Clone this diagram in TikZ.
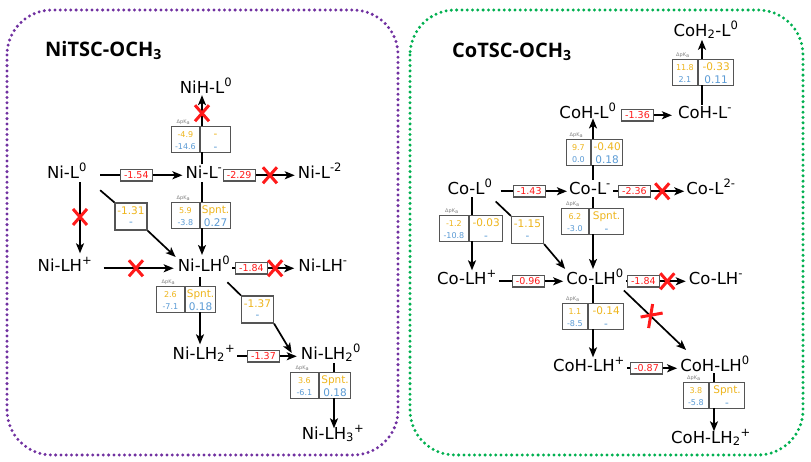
\documentclass[tikz,border=0pt]{standalone}
\usepackage{fontspec}
\setmainfont{DejaVu Sans}
\newfontfamily\titlefont{Open Sans}
\usetikzlibrary{arrows.meta}
\definecolor{yel}{HTML}{EEB51C}
\definecolor{blu}{HTML}{5B9BD5}
\definecolor{xred}{HTML}{FF1A1A}
\definecolor{bx}{HTML}{555555}
\definecolor{purp}{HTML}{7030A0}
\definecolor{grn}{HTML}{00B050}
\newcommand\fsz[1]{\fontsize{#1}{#1}\selectfont}
\def\pkL{28}\def\pkR{30}\def\pkH{26}
\tikzset{
 lbl/.style={font=\fsz{16.5}, inner sep=0pt, anchor=base},
 ln/.style={line width=1.7pt, draw=black},
 arr/.style={ln, -{Stealth[length=10pt,width=8pt,inset=2.5pt]}},
 cell/.style={draw=bx, line width=1.2pt, minimum height=26pt, inner sep=0pt},
 tl/.style={font=\fsz{8}, inner sep=0pt, anchor=base},
 tr/.style={font=\fsz{10.5}, inner sep=0pt, anchor=base},
 pklab/.style={font=\fsz{5}, text=gray, inner sep=0pt, anchor=south},
 vbox/.style={draw=bx, line width=1.2pt, fill=white, text=xred, font=\fsz{9.5}, minimum width=32pt, minimum height=11.5pt, inner sep=0pt},
 panelframe/.style={line width=3.3pt, dash pattern=on 0pt off 5.3pt, line cap=round, rounded corners=45pt},
 redx/.pic={\draw[xred, line width=3pt] (-7,-8) -- (7,8) (-7,8) -- (7,-8);},
 redxb/.pic={\draw[xred, line width=3pt] (2,-12) -- (-2,12) (-10,1) -- (12,-3);},
}
% pKa box: name, divider x, top y, line x, left top, left bottom, right top, right bottom
\newcommand\pkb[8]{%
 \node[cell, minimum width=\pkL pt, minimum height=\pkH pt, anchor=north east] (#1l) at (#2,#3) {};
 \node[cell, minimum width=\pkR pt, minimum height=\pkH pt, anchor=north west] (#1r) at (#2,#3) {};
 \node[pklab] (#1k) at ([xshift=-2pt,yshift=1.5pt]#1l.north) {ΔpK\textsubscript{a}};
 \node[tl, text=yel] (#1a) at ([yshift=-11.5pt]#1l.north) {#5};
 \node[tl, text=blu] (#1b) at ([yshift=-23pt]#1l.north) {#6};
 \node[tr, text=yel] (#1c) at ([yshift=-11.5pt]#1r.north) {#7};
 \node[tr, text=blu] (#1d) at ([yshift=-24pt]#1r.north) {#8};
 \coordinate (#1t) at (#4,#3);
 \coordinate (#1u) at (#4,#3+\pkH);
}
\newcommand\dgb[5]{%
 \node[cell, minimum width=32pt, minimum height=27pt] (#1) at (#2,#3) {};
 \node[tr, text=yel] (#1a) at ([yshift=-12pt]#1.north) {#4};
 \node[tr, text=blu] (#1b) at ([yshift=-23.5pt]#1.north) {#5};
}
\begin{document}
\begin{tikzpicture}[x=1pt,y=-1pt]
\useasboundingbox (0,0) rectangle (811,461);
\fill[white] (0,0) rectangle (811,461);
% frames
\draw[panelframe, purp] (7,10) rectangle (398,455);
\draw[panelframe, grn] (410,10) rectangle (803,455);
% titles
\node[font=\titlefont\bfseries\fsz{20}, anchor=base west, inner sep=0pt] (t1) at (45,56) {NiTSC-OCH\textsubscript{3}};
\node[font=\titlefont\bfseries\fsz{20}, anchor=base west, inner sep=0pt] (t2) at (452,57) {CoTSC-OCH\textsubscript{3}};

% ---------- Ni panel ----------
\node[lbl] (NiHL0) at (206,93) {NiH-L\textsuperscript{0}};
\node[lbl] (NiL0) at (67,178) {Ni-L\textsuperscript{0}};
\node[lbl] (NiLm) at (204,178) {Ni-L\textsuperscript{-}};
\node[lbl] (NiL2m) at (320,178) {Ni-L\textsuperscript{-2}};
\node[lbl] (NiLHp) at (65,271) {Ni-LH\textsuperscript{+}};
\node[lbl] (NiLH0) at (204,271) {Ni-LH\textsuperscript{0}};
\node[lbl] (NiLHm) at (323,271) {Ni-LH\textsuperscript{-}};
\node[lbl] (NiLH2p) at (204,359) {Ni-LH\textsubscript{2}\textsuperscript{+}};
\node[lbl] (NiLH20) at (331,359) {Ni-LH\textsubscript{2}\textsuperscript{0}};
\node[lbl] (NiLH3p) at (333,439) {Ni-LH\textsubscript{3}\textsuperscript{+}};

\def\pkL{28}\def\pkR{30}
\pkb{b1}{200}{126}{202}{-4.9}{-14.6}{-}{-}
\pkb{b2}{200}{202}{202}{5.9}{-3.8}{Spnt.}{0.27}
\pkb{b3}{185}{286}{200}{2.6}{-7.1}{Spnt.}{0.18}
\def\pkR{31}
\pkb{b4}{319}{372}{334}{3.6}{-6.1}{Spnt.}{0.18}
\dgb{d1}{131}{216.5}{-1.31}{-}
\dgb{d2}{257.5}{309.5}{-1.37}{-}

\draw[arr, shorten <=13pt, shorten >=3pt] (NiL0.mid east) -- node[vbox] (v1) {-1.54} (NiLm.mid west);
\draw[arr, shorten <=1pt, shorten >=3pt] (NiLm.mid east) -- node[vbox, pos=0.22] (v2) {-2.29} coordinate[pos=0.63] (x1) (NiL2m.mid west);
\pic at (x1) {redx};
\draw[arr, shorten <=11pt, shorten >=4pt] (NiLHp.mid east) -- coordinate[pos=0.51] (x3) (NiLH0.mid west);
\pic at (x3) {redx};
\draw[arr, shorten <=2pt, shorten >=4pt] (NiLH0.mid east) -- node[vbox, pos=0.31] (v3) {-1.84} coordinate[pos=0.66] (x5) (NiLHm.mid west);
\pic at (x5) {redx};
\draw[arr, shorten <=2pt, shorten >=4pt] (NiLH2p.mid east) -- node[vbox, pos=0.43] (v4) {-1.37} (NiLH20.mid west);

\draw[arr, shorten <=4pt, shorten >=4pt] ([xshift=13pt]NiL0.south) -- coordinate[pos=0.49] (x4) ([xshift=13pt]NiL0.south |- NiLHp.north);
\pic at (x4) {redx};
\draw[ln, shorten <=1pt] (NiLm.north -| b1u) -- (b1u);
\draw[arr, shorten >=2pt] (b1t) -- coordinate[pos=0.39] (x2) (b1t |- NiHL0.south);
\pic at (x2) {redx};
\draw[ln, shorten <=4pt] (NiLm.south -| b2t) -- (b2t);
\draw[arr, shorten >=1pt] (b2u) -- (b2u |- NiLH0.north);
\draw[ln, shorten <=6pt] (NiLH0.south -| b3t) -- (b3t);
\draw[arr, shorten >=1pt] (b3u) -- (b3u |- NiLH2p.north);
\draw[ln, shorten <=1pt] (NiLH20.south -| b4t) -- (b4t);
\draw[arr, shorten >=-3pt] (b4u) -- (b4u |- NiLH3p.north);

\draw[ln] ([shift={(13,12)}]NiL0.south east) -- (d1.north west);
\draw[arr] (d1.south east) -- ([shift={(-2,1)}]NiLH0.north west);
\draw[ln] ([shift={(-3,11)}]NiLH0.south east) -- (d2.north west);
\draw[arr] (d2.south east) -- ([shift={(-9,9)}]NiLH20.north west);

% ---------- Co panel ----------
\node[lbl] (CoH2L0) at (706,36) {CoH\textsubscript{2}-L\textsuperscript{0}};
\node[lbl] (CoHL0) at (588,118) {CoH-L\textsuperscript{0}};
\node[lbl] (CoHLm) at (705,118) {CoH-L\textsuperscript{-}};
\node[lbl] (CoL0) at (470,194) {Co-L\textsuperscript{0}};
\node[lbl] (CoLm) at (590,194) {Co-L\textsuperscript{-}};
\node[lbl] (CoL2m) at (711,194) {Co-L\textsuperscript{2-}};
\node[lbl] (CoLHp) at (467,284) {Co-LH\textsuperscript{+}};
\node[lbl] (CoLH0) at (595,284) {Co-LH\textsuperscript{0}};
\node[lbl] (CoLHm) at (716,284) {Co-LH\textsuperscript{-}};
\node[lbl] (CoHLHp) at (589,371) {CoH-LH\textsuperscript{+}};
\node[lbl] (CoHLH0) at (715,371) {CoH-LH\textsuperscript{0}};
\node[lbl] (CoHLH2p) at (711,443) {CoH-LH\textsubscript{2}\textsuperscript{+}};

\def\pkL{25}\def\pkR{35}
\pkb{c1}{698}{59}{702}{11.8}{2.1}{-0.33}{0.11}
\def\pkL{24}\def\pkR{31}
\pkb{c2}{591}{139}{593}{9.7}{0.0}{-0.40}{0.18}
\def\pkL{29}\def\pkR{33}
\pkb{c3}{469}{215}{472}{-1.2}{-10.8}{-0.03}{-}
\def\pkL{27}\def\pkR{34}
\pkb{c4}{589}{208}{593}{6.2}{-3.0}{Spnt.}{-}
\def\pkL{25}\def\pkR{35}
\pkb{c5}{588}{303}{593}{1.1}{-8.5}{-0.14}{-}
\pkb{c6}{709}{382}{714}{3.8}{-5.8}{Spnt.}{-}
\dgb{d3}{527.5}{230}{-1.15}{-}

\draw[arr, shorten <=8pt, shorten >=2pt] (CoL0.mid east) -- node[vbox, pos=0.48] (v5) {-1.43} (CoLm.mid west);
\draw[arr, shorten <=2pt, shorten >=2pt] (CoLm.mid east) -- node[vbox, pos=0.31] (v6) {-2.36} coordinate[pos=0.68] (x6) (CoL2m.mid west);
\pic at (x6) {redx};
\draw[arr, shorten <=5pt, shorten >=6pt] (CoHL0.mid east) -- node[vbox, pos=0.34] (v7) {-1.36} (CoHLm.mid west);
\draw[arr, shorten <=2pt, shorten >=3pt] (CoLHp.mid east) -- node[vbox, pos=0.45] (v8) {-0.96} (CoLH0.mid west);
\draw[arr, shorten <=2pt, shorten >=3pt] (CoLH0.mid east) -- node[vbox, pos=0.30] (v9) {-1.84} coordinate[pos=0.67] (x7) (CoLHm.mid west);
\pic at (x7) {redx};
\draw[arr, shorten <=2pt, shorten >=3pt] (CoHLHp.mid east) -- node[vbox, pos=0.39] (v10) {-0.87} (CoHLH0.mid west);

\draw[ln, shorten <=1pt] (CoHLm.north -| c1u) -- (c1u);
\draw[arr, shorten >=1pt] (c1t) -- (c1t |- CoH2L0.south);
\draw[ln, shorten <=2pt] (CoLm.north -| c2u) -- (c2u);
\draw[arr] (c2t) -- (c2t |- CoHL0.south);
\draw[ln, shorten <=3pt] (CoL0.south -| c3t) -- (c3t);
\draw[arr] (c3u) -- (c3u |- CoLHp.north);
\draw[ln, shorten <=3pt] (CoLm.south -| c4t) -- (c4t);
\draw[arr] (c4u) -- (c4u |- CoLH0.north);
\draw[ln, shorten <=1pt] (CoLH0.south -| c5t) -- (c5t);
\draw[arr] (c5u) -- (c5u |- CoHLHp.north);
\draw[ln, shorten <=2pt] (CoHLH0.south -| c6t) -- (c6t);
\draw[arr, shorten >=-2pt] (c6u) -- (c6u |- CoHLH2p.north);

\draw[ln] ([shift={(3,7)}]CoL0.south east) -- (d3.north west);
\draw[arr] (d3.south east) -- ([shift={(-1,0)}]CoLH0.north west);
\draw[arr] ([shift={(0,6)}]CoLH0.south east) -- coordinate[pos=0.43] (x8) ([shift={(6,-6)}]CoHLH0.north west);
\pic at (x8) {redxb};
\end{tikzpicture}
\end{document}
